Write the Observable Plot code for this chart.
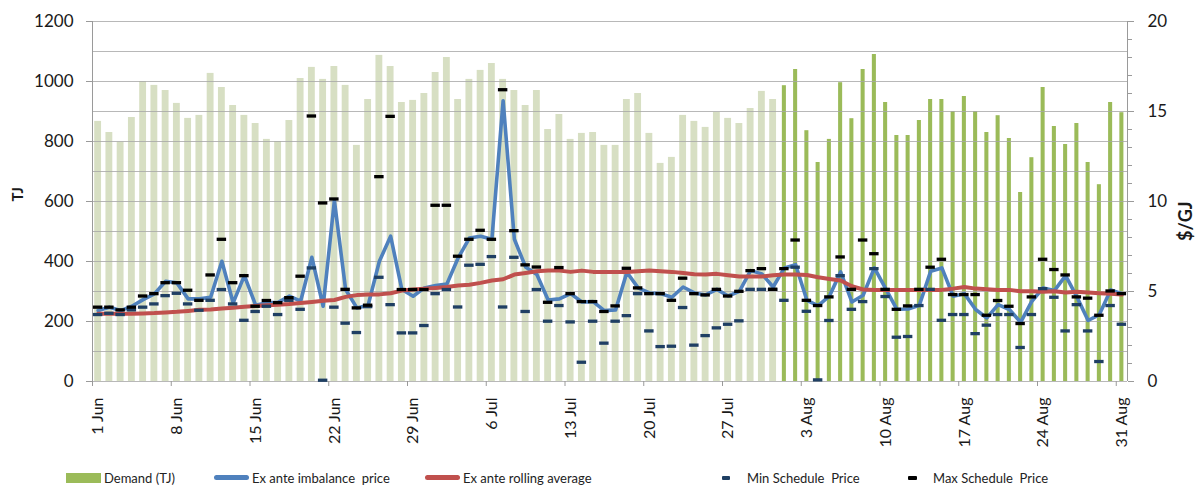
<!DOCTYPE html>
<html>
<head>
<meta charset="utf-8">
<script src="https://cdn.jsdelivr.net/npm/d3@7"></script>
<script src="https://cdn.jsdelivr.net/npm/@observablehq/plot@0.6"></script>
<style>
  body { margin: 0; background: #fff; }
  #chart { width: 1195px; }
  .legend { position: relative; width: 1195px; height: 26px; font-family: Lato, "Open Sans", sans-serif; font-size: 13px; color: #222; }
  .legend .sw { position: absolute; }
  .legend .tx { position: absolute; top: 10px; line-height: 16px; white-space: pre; }
</style>
</head>
<body>
<div id="chart"></div>
<div class="legend" id="legend"></div>
<script>
// Daily demand (TJ), 1 Jun .. 31 Aug
const demand = [
  867, 830, 798, 880, 1000, 987, 970, 927, 877, 887,
  1027, 980, 920, 887, 860, 807, 800, 870, 1010, 1047,
  1007, 1050, 987, 787, 940, 1087, 1050, 930, 937, 960,
  1030, 1080, 940, 1007, 1037, 1060, 1007, 970, 920, 970,
  840, 890, 807, 827, 830, 787, 787, 940, 960, 827,
  727, 747, 887, 867, 847, 897, 877, 860, 910, 967,
  940, 986, 1040, 836, 730, 807, 996, 876, 1040, 1090,
  930, 820, 820, 870, 940, 940, 900, 950, 900, 830,
  886, 810, 630, 746, 980, 850, 790, 860, 730, 656,
  930, 896
];
// Ex ante imbalance price ($/GJ)
const imbalance = [
  3.94, 4.13, 3.94, 4.18, 4.55, 4.87, 5.57, 5.48, 4.59, 4.59,
  4.68, 6.68, 4.37, 5.88, 4.24, 4.37, 4.40, 4.74, 4.46, 6.90,
  4.18, 10.05, 5.11, 4.09, 4.24, 6.68, 8.07, 5.11, 4.74, 5.20,
  5.33, 5.42, 6.86, 7.97, 8.07, 7.90, 15.60, 7.90, 6.36, 5.94,
  4.53, 4.59, 4.88, 4.42, 4.44, 3.94, 3.98, 6.07, 5.20, 4.92,
  4.88, 4.68, 5.25, 4.92, 4.81, 5.12, 4.75, 5.01, 6.16, 5.98,
  5.25, 6.31, 6.49, 4.51, 4.22, 4.74, 6.09, 4.42, 4.79, 6.31,
  5.16, 4.01, 4.03, 4.24, 6.12, 6.31, 4.74, 4.88, 4.00, 3.53,
  4.27, 4.00, 3.29, 4.46, 5.20, 5.05, 5.88, 4.70, 3.39, 3.72,
  5.09, 4.88
];
// Ex ante rolling average ($/GJ)
const rolling = [
  3.76, 3.76, 3.76, 3.77, 3.78, 3.80, 3.84, 3.87, 3.92, 3.98,
  4.00, 4.05, 4.10, 4.15, 4.20, 4.24, 4.26, 4.30, 4.36, 4.42,
  4.48, 4.53, 4.70, 4.80, 4.83, 4.84, 4.90, 5.05, 5.11, 5.16,
  5.20, 5.25, 5.33, 5.38, 5.48, 5.61, 5.68, 5.94, 6.03, 6.12,
  6.16, 6.16, 6.09, 6.16, 6.09, 6.09, 6.09, 6.09, 6.12, 6.16,
  6.12, 6.09, 6.03, 5.96, 5.94, 5.98, 5.90, 5.83, 5.83, 5.83,
  5.90, 5.94, 5.94, 5.92, 5.79, 5.70, 5.61, 5.29, 5.11, 5.09,
  5.09, 5.09, 5.09, 5.09, 5.09, 5.09, 5.16, 5.25, 5.16, 5.12,
  5.09, 5.09, 5.01, 5.01, 4.98, 5.01, 4.94, 4.98, 4.94, 4.90,
  4.87, 4.83
];
// Min schedule price ($/GJ)
const minPrice = [
  3.72, 3.79, 3.72, 3.98, 4.13, 4.31, 4.77, 4.90, 4.31, 3.96,
  4.51, 5.11, 4.31, 3.40, 3.89, 4.18, 3.72, 4.51, 4.01, 6.31,
  0.07, 4.13, 3.24, 2.72, 4.16, 5.79, 4.27, 2.70, 2.70, 3.11,
  4.88, 5.11, 4.14, 6.46, 6.51, 6.94, 4.14, 6.90, 3.89, 5.11,
  3.35, 4.22, 3.31, 1.07, 3.35, 2.13, 3.35, 3.66, 4.88, 2.81,
  1.94, 1.96, 4.11, 2.02, 2.55, 2.98, 3.18, 3.37, 5.12, 5.12,
  5.12, 4.51, 6.35, 3.90, 0.09, 3.39, 5.88, 4.01, 4.44, 6.27,
  4.72, 2.46, 2.50, 4.22, 5.12, 3.40, 3.72, 3.72, 2.66, 3.13,
  3.72, 3.72, 1.89, 3.72, 5.16, 4.68, 2.81, 4.27, 2.81, 1.11,
  4.22, 3.18
];
// Max schedule price ($/GJ)
const maxPrice = [
  4.13, 4.13, 3.98, 4.13, 4.75, 4.88, 5.49, 5.49, 5.07, 4.51,
  5.92, 7.90, 5.49, 5.88, 4.18, 4.50, 4.38, 4.66, 5.85, 14.75,
  9.92, 10.14, 5.12, 4.09, 4.24, 11.38, 14.73, 5.11, 5.11, 5.11,
  9.79, 9.79, 6.96, 7.90, 8.40, 7.90, 16.21, 8.38, 6.48, 6.36,
  4.40, 6.33, 4.88, 4.44, 4.44, 3.89, 4.20, 6.29, 5.20, 4.88,
  4.88, 4.51, 5.74, 4.88, 4.81, 5.12, 4.75, 5.01, 6.16, 6.27,
  5.12, 6.27, 7.86, 4.51, 4.22, 4.70, 6.92, 5.12, 7.86, 7.10,
  5.12, 4.01, 4.20, 5.12, 6.35, 6.79, 4.83, 4.83, 4.83, 3.68,
  4.50, 4.18, 3.22, 4.70, 6.79, 6.22, 5.92, 4.70, 4.63, 3.68,
  5.03, 4.88
];
// Axis ticks and labels
const tjTicks = [0, 200, 400, 600, 800, 1000, 1200];
const gridTicks = [0, 100, 200, 300, 400, 500, 600, 700, 800, 900, 1000, 1100, 1200];
const priceTicks = [0, 5, 10, 15, 20];
const priceMinorTicks = [0,1,2,3,4,5,6,7,8,9,10,11,12,13,14,15,16,17,18,19,20];
const xTickLabels = ["1 Jun","8 Jun","15 Jun","22 Jun","29 Jun","6 Jul","13 Jul","20 Jul","27 Jul","3 Aug","10 Aug","17 Aug","24 Aug","31 Aug"];
const xTickDays = [0, 7, 14, 21, 28, 35, 42, 49, 56, 63, 70, 77, 84, 91];

const days = d3.utcDay.range(new Date(Date.UTC(2014, 5, 1)), new Date(Date.UTC(2014, 8, 1)));
const nDays = days.length;
const k = 1200 / 20; // $/GJ -> TJ scale factor

const data = demand.map((v, i) => ({
  i, demand: v, aug: days[i].getUTCMonth() === 7,
  imb: imbalance[i], avg: rolling[i], min: minPrice[i], max: maxPrice[i]
}));

const W = 1195, H = 460;
const labelOf = new Map(xTickDays.map((d, j) => [d + 0.5, xTickLabels[j]]));

const chart = Plot.plot({
  width: W,
  height: H,
  marginLeft: 92,
  marginRight: 68,
  marginTop: 21,
  marginBottom: H - 381,
  style: { background: "white", color: "#1a1a1a", fontFamily: "Lato, 'Open Sans', sans-serif", fontSize: "16px", overflow: "visible" },
  x: { type: "linear", domain: [0, nDays] },
  y: { type: "linear", domain: [0, 1200] },
  marks: [
    Plot.rectY(data.filter(d => !d.aug), { x1: d => d.i, x2: d => d.i + 1, y: "demand", insetLeft: 2.2, insetRight: 2.2, fill: "#D7DFC3" }),
    Plot.rectY(data.filter(d => d.aug), { x1: d => d.i, x2: d => d.i + 1, y: "demand", insetLeft: 3.6, insetRight: 3.6, fill: "#9BBB59" }),
    Plot.ruleY(gridTicks, { stroke: "#a6a6a6", strokeOpacity: 0.8 }),
    Plot.ruleX([0, nDays], { stroke: "#9a9a9a" }),
    // left axis
    Plot.axisY(tjTicks, { anchor: "left", tickSize: 6, tickPadding: 13, tickFormat: d => String(d), stroke: "#9a9a9a", fontSize: 17, label: null }),
    // right axis
    Plot.axisY(priceMinorTicks.map(v => v * k), { anchor: "right", tickSize: 4, tickFormat: () => "", stroke: "#9a9a9a", label: null }),
    Plot.axisY(priceTicks.map(v => v * k), { anchor: "right", tickSize: 6, tickPadding: 14, tickFormat: d => String(d / k), stroke: "#9a9a9a", fontSize: 17, label: null }),
    // x axis
    Plot.axisX(xTickDays, { tickSize: 5, tickFormat: () => "", stroke: "#9a9a9a", label: null }),
    Plot.axisX(xTickDays.map(d => d + 0.5), { tickSize: 0, tickPadding: 16, tickRotate: -90, tickFormat: d => labelOf.get(d), fontSize: 16, label: null }),
    // axis titles
    Plot.text(["TJ"], { frameAnchor: "left", dx: -74, rotate: -90, fontSize: 15, fontWeight: "bold", fill: "#1a1a1a" }),
    Plot.text(["$/GJ"], { frameAnchor: "right", dx: 59, rotate: -90, fontSize: 18, fontWeight: "bold", fill: "#1a1a1a" }),
    // price series
    Plot.line(data, { x: d => d.i + 0.5, y: d => d.imb * k, stroke: "#4F81BD", strokeWidth: 3.6, strokeLinejoin: "round" }),
    Plot.line(data, { x: d => d.i + 0.5, y: d => d.avg * k, stroke: "#C0504D", strokeWidth: 4, strokeLinejoin: "round" }),
    Plot.ruleY(data, { x1: d => d.i + 0.08, x2: d => d.i + 0.92, y: d => d.min * k, stroke: "#1F3F63", strokeWidth: 3.3 }),
    Plot.ruleY(data, { x1: d => d.i + 0.08, x2: d => d.i + 0.92, y: d => d.max * k, stroke: "#000000", strokeWidth: 3.3 })
  ]
});
document.getElementById("chart").appendChild(chart);

// Legend
const legendItems = [
  { label: "Demand (TJ)", kind: "box", color: "#9BBB59", sx: 66, sw: 35, tx: 104 },
  { label: "Ex ante imbalance  price", kind: "line", color: "#4F81BD", sx: 214, sw: 35, tx: 252 },
  { label: "Ex ante rolling average", kind: "line", color: "#C0504D", sx: 425, sw: 35, tx: 463 },
  { label: "Min Schedule  Price", kind: "dash", color: "#1F3F63", sx: 722, sw: 8, tx: 747 },
  { label: "Max Schedule  Price", kind: "dash", color: "#000000", sx: 908, sw: 9, tx: 933 }
];
const leg = document.getElementById("legend");
legendItems.forEach(it => {
  const s = document.createElement("div");
  s.className = "sw";
  s.style.left = it.sx + "px";
  s.style.width = it.sw + "px";
  s.style.background = it.color;
  if (it.kind === "box") { s.style.top = "13px"; s.style.height = "10px"; }
  else if (it.kind === "line") { s.style.top = "15px"; s.style.height = "5px"; s.style.borderRadius = "2.5px"; }
  else { s.style.top = "16px"; s.style.height = "4px"; s.style.borderRadius = "1px"; }
  leg.appendChild(s);
  const t = document.createElement("div");
  t.className = "tx";
  t.style.left = it.tx + "px";
  t.textContent = it.label;
  leg.appendChild(t);
});
</script>
</body>
</html>
